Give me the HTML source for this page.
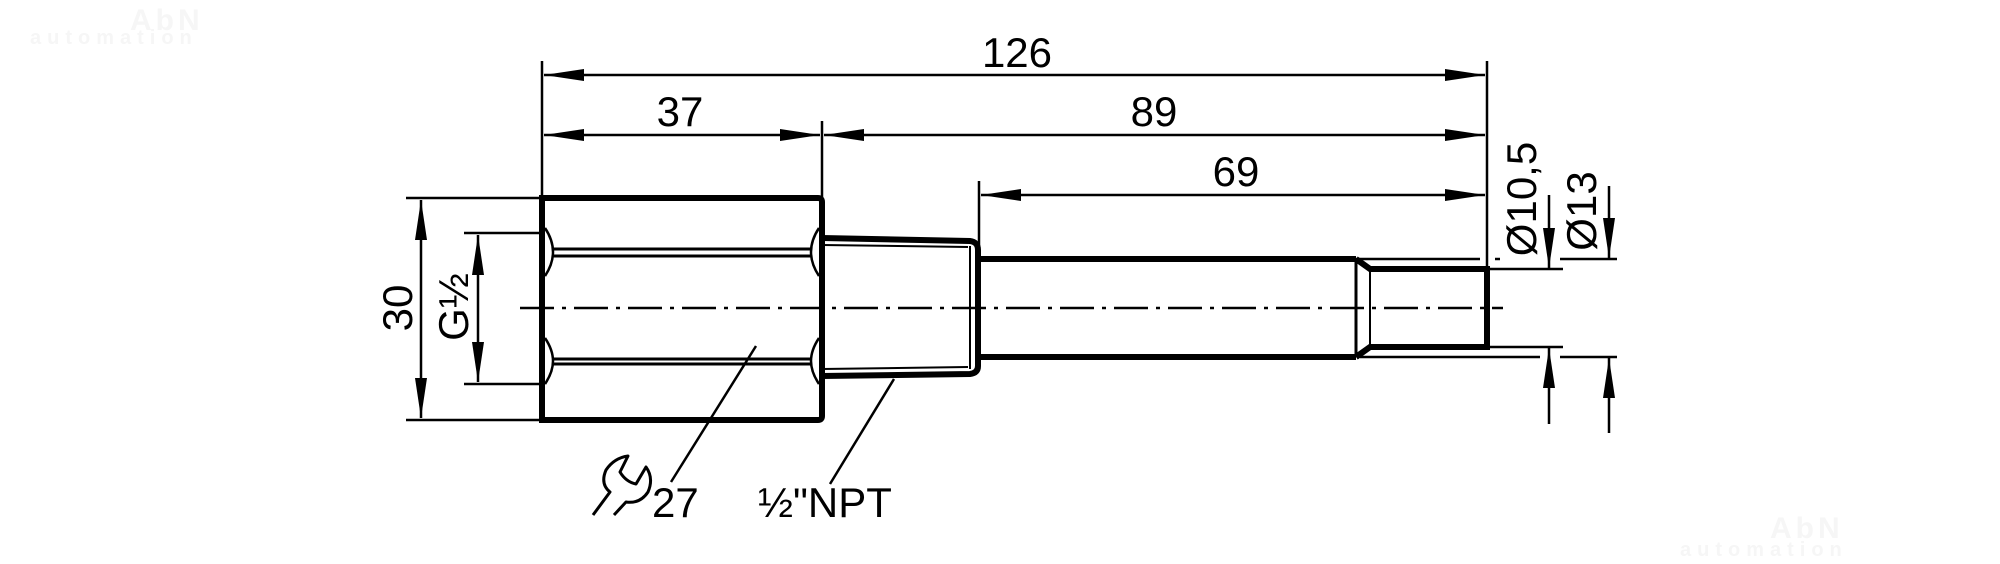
<!DOCTYPE html>
<html><head><meta charset="utf-8"><style>
html,body{margin:0;padding:0;background:#fff;}
svg{display:block;}
text{font-family:"Liberation Sans",sans-serif;fill:#000;}
</style></head><body>
<svg width="2000" height="564" viewBox="0 0 2000 564" xmlns="http://www.w3.org/2000/svg">
<defs>
<marker id="a" viewBox="0 0 40 12" refX="40" refY="6" markerWidth="40" markerHeight="12" markerUnits="userSpaceOnUse" orient="auto-start-reverse">
<path d="M0,0 L40,6 L0,12 Z" fill="#000"/>
</marker>
</defs>
<!-- watermarks -->
<text x="130" y="30" font-size="30" font-weight="bold" style="fill:#f6f6f6" letter-spacing="4">AbN</text>
<text x="30" y="44" font-size="20" font-weight="bold" style="fill:#f6f6f6" letter-spacing="6">automation</text>
<text x="1770" y="538" font-size="30" font-weight="bold" style="fill:#f6f6f6" letter-spacing="4">AbN</text>
<text x="1680" y="556" font-size="20" font-weight="bold" style="fill:#f6f6f6" letter-spacing="6">automation</text>

<g stroke="#000" fill="none">
<line x1="542" y1="61" x2="542" y2="420" stroke-width="2.5"/>
<line x1="1487" y1="61" x2="1487" y2="269" stroke-width="2.5"/>
<line x1="822" y1="121" x2="822" y2="238" stroke-width="2.5"/>
<line x1="979" y1="181" x2="979" y2="259" stroke-width="2.5"/>
<line x1="544" y1="75" x2="1485" y2="75" stroke-width="2.5" marker-start="url(#a)" marker-end="url(#a)"/>
<line x1="544" y1="135" x2="820" y2="135" stroke-width="2.5" marker-start="url(#a)" marker-end="url(#a)"/>
<line x1="824" y1="135" x2="1485" y2="135" stroke-width="2.5" marker-start="url(#a)" marker-end="url(#a)"/>
<line x1="981" y1="195" x2="1485" y2="195" stroke-width="2.5" marker-start="url(#a)" marker-end="url(#a)"/>
<line x1="406" y1="198" x2="542" y2="198" stroke-width="2.5"/>
<line x1="406" y1="420" x2="542" y2="420" stroke-width="2.5"/>
<line x1="421" y1="200" x2="421" y2="418" stroke-width="2.5" marker-start="url(#a)" marker-end="url(#a)"/>
<line x1="464" y1="233" x2="540" y2="233" stroke-width="2.5"/>
<line x1="464" y1="384" x2="540" y2="384" stroke-width="2.5"/>
<line x1="478" y1="235" x2="478" y2="382" stroke-width="2.5" marker-start="url(#a)" marker-end="url(#a)"/>

<!-- hex body -->
<path d="M542,198 L818,198 Q822,198 822,202 L822,416 Q822,420 818,420 L542,420 Z" stroke-width="6"/>
<path d="M545,228 Q553,240 553,252 Q553,264 545,276" stroke-width="2.5"/>
<path d="M545,338 Q553,350 553,361 Q553,372 545,384" stroke-width="2.5"/>
<path d="M819,228 Q811,240 811,252 Q811,264 819,276" stroke-width="2.5"/>
<path d="M819,338 Q811,350 811,361 Q811,372 819,384" stroke-width="2.5"/>
<line x1="553" y1="249" x2="811" y2="249" stroke-width="3"/>
<line x1="553" y1="256" x2="811" y2="256" stroke-width="3"/>
<line x1="553" y1="359" x2="811" y2="359" stroke-width="3"/>
<line x1="553" y1="364" x2="811" y2="364" stroke-width="3"/>

<!-- NPT section -->
<path d="M822,238 L970,241 Q978,242 978,250 L978,366 Q978,373 970,374 L822,376" stroke-width="6"/>
<line x1="822" y1="245" x2="968" y2="247" stroke-width="2"/>
<line x1="822" y1="369" x2="968" y2="367" stroke-width="2"/>
<line x1="970" y1="246" x2="970" y2="369" stroke-width="2"/>

<!-- shaft -->
<line x1="978" y1="259" x2="1356" y2="259" stroke-width="6"/>
<line x1="978" y1="357" x2="1356" y2="357" stroke-width="6"/>
<line x1="1356" y1="259" x2="1356" y2="357" stroke-width="3"/>
<path d="M1356,259 L1370,269 L1487,269 L1487,347 L1370,347 L1356,357" stroke-width="6"/>
<line x1="1370" y1="269" x2="1370" y2="347" stroke-width="2"/>

<!-- diameter dims -->
<line x1="1490" y1="269" x2="1563" y2="269" stroke-width="2.5"/>
<line x1="1490" y1="347" x2="1563" y2="347" stroke-width="2.5"/>
<line x1="1356" y1="259" x2="1480" y2="259" stroke-width="2.5"/>
<line x1="1495" y1="259" x2="1500" y2="259" stroke-width="2.5"/>
<line x1="1560" y1="259" x2="1617" y2="259" stroke-width="2.5"/>
<line x1="1360" y1="357" x2="1540" y2="357" stroke-width="2.5"/>
<line x1="1560" y1="357" x2="1617" y2="357" stroke-width="2.5"/>
<line x1="1549" y1="195" x2="1549" y2="268" stroke-width="2.5" marker-end="url(#a)"/>
<line x1="1549" y1="424" x2="1549" y2="348" stroke-width="2.5" marker-end="url(#a)"/>
<line x1="1609" y1="186" x2="1609" y2="258" stroke-width="2.5" marker-end="url(#a)"/>
<line x1="1609" y1="433" x2="1609" y2="358" stroke-width="2.5" marker-end="url(#a)"/>

<line x1="520" y1="308" x2="1503" y2="308" stroke-width="2.5" stroke-dasharray="34,8,4,8"/>

<line x1="756" y1="346" x2="671" y2="482" stroke-width="2.5"/>
<line x1="894" y1="379" x2="830" y2="484" stroke-width="2.5"/>

<path d="M593,515 L610,492 Q600,484 606,470 Q614,458 628,456 L620,472 Q626,482 636,484 L646,467 Q654,478 648,492 Q640,504 626,502 L614,515" stroke-width="3" stroke-linejoin="round"/>
</g>

<text x="1017" y="67" font-size="42" text-anchor="middle">126</text>
<text x="680" y="126" font-size="42" text-anchor="middle">37</text>
<text x="1154" y="126" font-size="42" text-anchor="middle">89</text>
<text x="1236" y="186" font-size="42" text-anchor="middle">69</text>
<text transform="translate(412,308) rotate(-90)" font-size="42" text-anchor="middle">30</text>
<text transform="translate(468,307) rotate(-90)" font-size="42" text-anchor="middle">G½</text>
<text transform="translate(1536,199) rotate(-90)" font-size="42" text-anchor="middle">Ø10,5</text>
<text transform="translate(1596,211) rotate(-90)" font-size="42" text-anchor="middle">Ø13</text>
<text x="652" y="517" font-size="42">27</text>
<text x="758" y="517" font-size="42">½"NPT</text>
</svg>
</body></html>
